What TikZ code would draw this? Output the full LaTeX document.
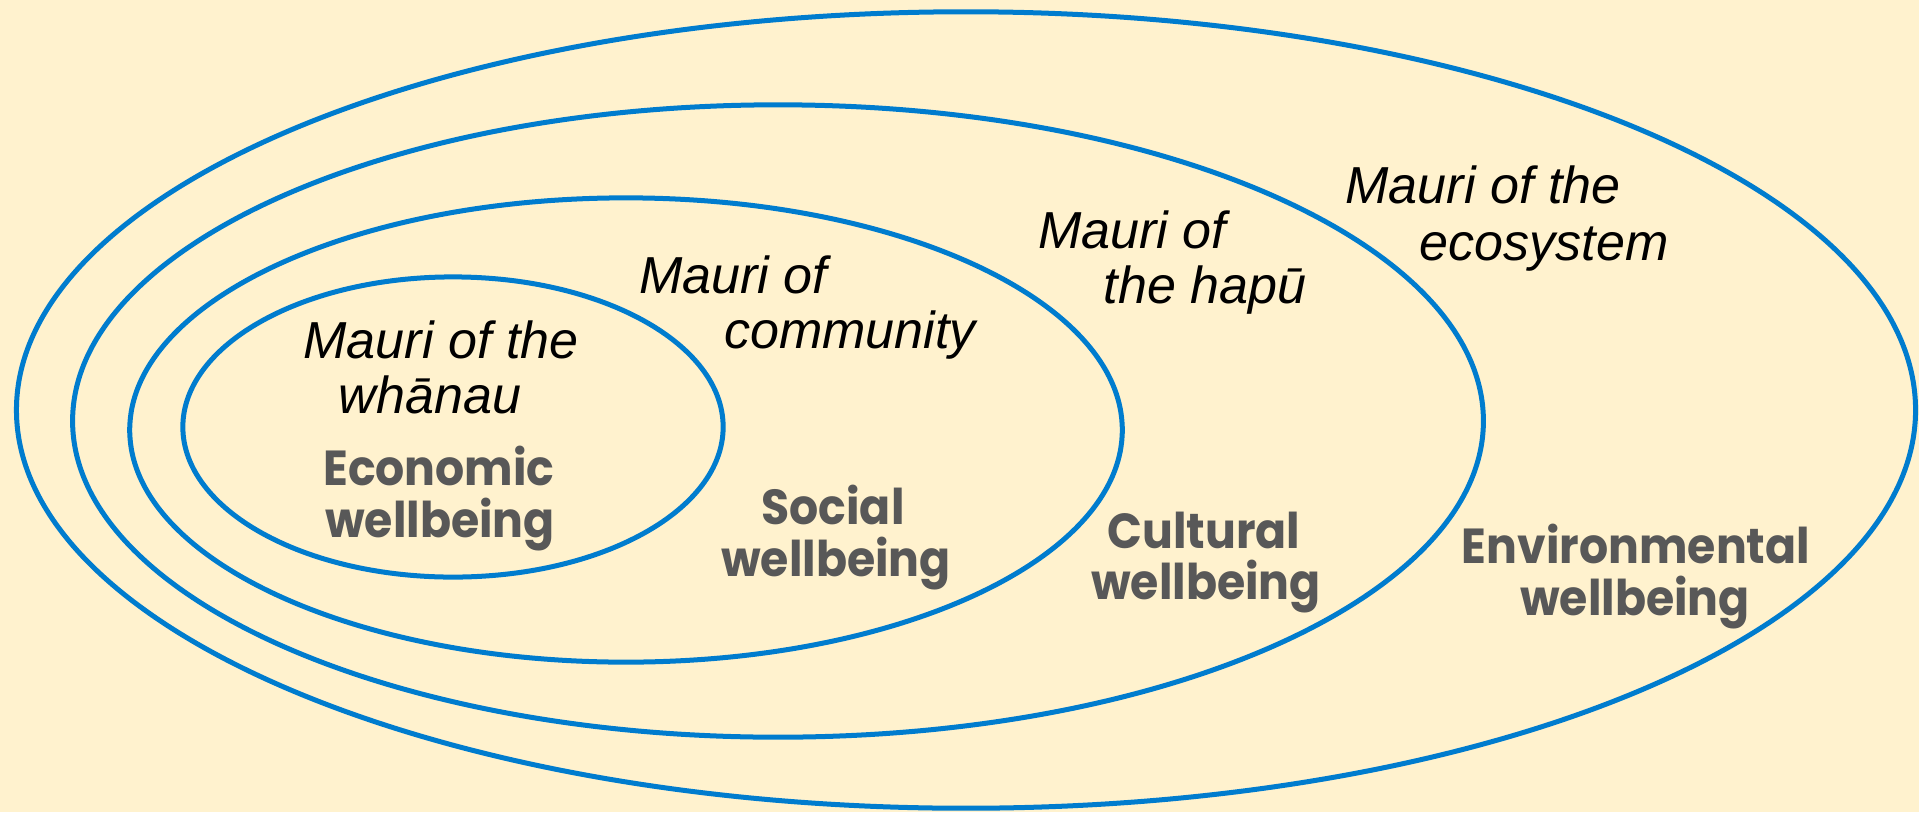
\documentclass[tikz,border=0pt]{standalone}
\usepackage{fontspec}
\setmainfont{Liberation Sans}
\newfontfamily\labfont[FakeStretch=0.93]{Poppins}
\definecolor{bg}{RGB}{255,242,206}
\definecolor{ringblue}{RGB}{0,124,206}
\definecolor{labgrey}{RGB}{88,88,88}
\begin{document}
\begin{tikzpicture}[x=0.01cm,y=-0.01cm,
  ring/.style={draw=ringblue,line width=0.05cm},
  mauri/.style={font=\fontsize{14.8pt}{15pt}\selectfont\itshape,anchor=base,inner sep=0pt,text=black},
  well/.style={font=\labfont\bfseries\fontsize{14pt}{15pt}\selectfont,anchor=base,inner sep=0pt,text=labgrey}]
\fill[bg] (0,0) rectangle (1919,812);
\useasboundingbox (0,0) rectangle (1919,812);
% rings
\draw[ring] (966,410) ellipse [x radius=9.49cm, y radius=3.98cm];
\draw[ring] (778,421) ellipse [x radius=7.05cm, y radius=3.16cm];
\draw[ring] (626,430) ellipse [x radius=4.96cm, y radius=2.32cm];
\draw[ring] (453,427) ellipse [x radius=2.70cm, y radius=1.50cm];
% mauri labels
\node[mauri] (m1a) at (441,358) {Mauri of the};
\node[mauri] (m1b) at (430,413) {whānau};
\node[mauri] (m2a) at (733,293) {Mauri of};
\node[mauri] (m2b) at (850,348) {community};
\node[mauri] (m3a) at (1132,248) {Mauri of};
\node[mauri] (m3b) at (1205,303) {the hapū};
\node[mauri] (m4a) at (1483,203) {Mauri of the};
\node[mauri] (m4b) at (1544,260) {ecosystem};
% wellbeing labels
\node[well] (w1a) at (439,485) {Economic};
\node[well] (w1b) at (440,537) {wellbeing};
\node[well] (w2a) at (833,524) {Social};
\node[well] (w2b) at (836,576) {wellbeing};
\node[well] (w3a) at (1204,548) {Cultural};
\node[well] (w3b) at (1206,599) {wellbeing};
\node[well] (w4a) at (1636,563) {Environmental};
\node[well] (w4b) at (1635,615) {wellbeing};
\end{tikzpicture}
\end{document}
